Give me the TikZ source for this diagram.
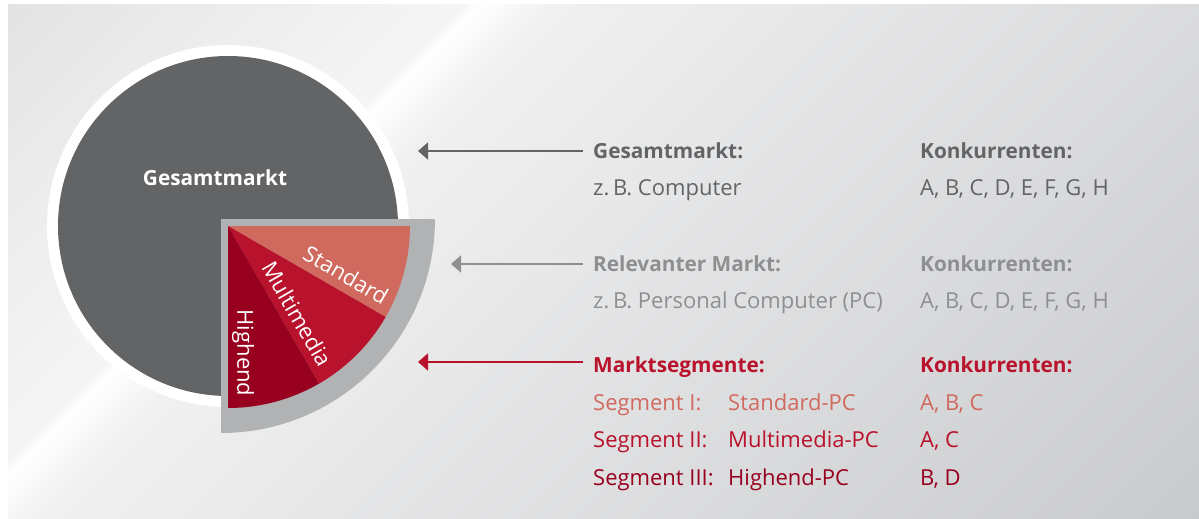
\documentclass[tikz,border=0pt]{standalone}
\usepackage{fontspec}
\setmainfont{Open Sans}
\usepackage{tikz}
\usetikzlibrary{arrows.meta, positioning}

\definecolor{bgdark}{HTML}{C9CACC}
\definecolor{markgray}{HTML}{636466}
\definecolor{relgray}{HTML}{8E8F91}
\definecolor{framegray}{HTML}{B1B2B4}
\definecolor{segsalmon}{HTML}{D06A5F}
\definecolor{segred}{HTML}{B9122C}
\definecolor{segdark}{HTML}{98001F}
\newcommand{\bodysize}{\fontsize{22}{26}\selectfont}
\newcommand{\headsize}{\fontsize{20.8}{26}\selectfont\bfseries}

\begin{document}
\begin{tikzpicture}[
		x=1pt, y=1pt,
		head/.style={anchor=base west, inner sep=0pt, font=\headsize},
		rowtext/.style={anchor=base west, inner sep=0pt, font=\bodysize},
		slicelabel/.style={inner sep=0pt, text=white, font=\bodysize},
		pointer/.style={-{Triangle[length=10pt,width=17pt]}, line width=1.7pt}]

	\useasboundingbox (0,0) rectangle (1199,-519);

	% panel with the diagonal light streak
	\begin{scope}
		\clip (8,-5) rectangle (1199,-519);
		\foreach \d in {13,17,...,1717}{
			\pgfmathsetmacro\p{\d<470 ? 52-(\d-13)/457*34 : (\d<482 ? 18-(\d-470)/12*18 : (\d<560 ? (\d-482)/78*28 : min(100,28+(\d-560)/1156*72)))}
			\fill[bgdark!\p!white] (\d,0) -- ++(5,0) -- (0,-\d-5) -- (0,-\d) -- cycle;
		}
	\end{scope}

	% markets
	\coordinate (centre) at (228,-226);
	\fill[white] (centre) circle[radius=181];
	\fill[markgray] (centre) circle[radius=170];
	\node[slicelabel, font=\headsize] (total) at (215,-178) {Gesamtmarkt};

	\fill[framegray] (221,-219) -- (435,-219) arc[start angle=0, end angle=-90, radius=214] -- cycle;
	\fill[segsalmon] (centre) -- ++(0:182) arc[start angle=0, end angle=-30, radius=182] -- cycle;
	\fill[segred] (centre) -- ++(-30:182) arc[start angle=-30, end angle=-60, radius=182] -- cycle;
	\fill[segdark] (centre) -- ++(-60:182) arc[start angle=-60, end angle=-90, radius=182] -- cycle;

	\node[slicelabel, rotate=-30] (standard) at (346,-275) {Standard};
	\node[slicelabel, rotate=-60] (multimedia) at (297,-314) {Multimedia};
	\node[slicelabel, rotate=-90] (highend) at (243,-353) {Highend};

	% legend
	\node[head, text=markgray] (gesamt_head) at (593,-158) {Gesamtmarkt:};
	\node[rowtext, text=markgray] (gesamt_ex) at (593,-195) {z.\,B. Computer};
	\node[head, text=markgray] (gesamt_konk) at (920,-158) {Konkurrenten:};
	\node[rowtext, text=markgray] (gesamt_list) at (920,-195) {A, B, C, D, E, F, G, H};

	\node[head, text=relgray] (rel_head) at (593,-271) {Relevanter Markt:};
	\node[rowtext, text=relgray] (rel_ex) at (593,-308) {z.\,B. Personal Computer (PC)};
	\node[head, text=relgray] (rel_konk) at (920,-271) {Konkurrenten:};
	\node[rowtext, text=relgray] (rel_list) at (920,-308) {A, B, C, D, E, F, G, H};

	\node[head, text=segred] (seg_head) at (593,-372) {Marktsegmente:};
	\node[head, text=segred] (seg_konk) at (920,-372) {Konkurrenten:};
	\node[rowtext, text=segsalmon] (seg_one) at (593,-410) {Segment I:};
	\node[rowtext, text=segsalmon] (seg_one_pc) at (728,-410) {Standard-PC};
	\node[rowtext, text=segsalmon] (seg_one_list) at (920,-410) {A, B, C};
	\node[rowtext, text=segred] (seg_two) at (593,-447) {Segment II:};
	\node[rowtext, text=segred] (seg_two_pc) at (728,-447) {Multimedia-PC};
	\node[rowtext, text=segred] (seg_two_list) at (920,-447) {A, C};
	\node[rowtext, text=segdark] (seg_three) at (593,-485) {Segment III:};
	\node[rowtext, text=segdark] (seg_three_pc) at (728,-485) {Highend-PC};
	\node[rowtext, text=segdark] (seg_three_list) at (920,-485) {B, D};

	\coordinate (tip_gesamt) at (418,-151);
	\coordinate (tip_rel) at (451,-264);
	\coordinate (tip_seg) at (418,-362);

	\draw[pointer, markgray] (gesamt_head.west |- tip_gesamt) ++(-10,0) -- (tip_gesamt);
	\draw[pointer, relgray] (rel_head.west |- tip_rel) ++(-10,0) -- (tip_rel);
	\draw[pointer, segred] (seg_head.west |- tip_seg) ++(-10,0) -- (tip_seg);

\end{tikzpicture}
\end{document}
